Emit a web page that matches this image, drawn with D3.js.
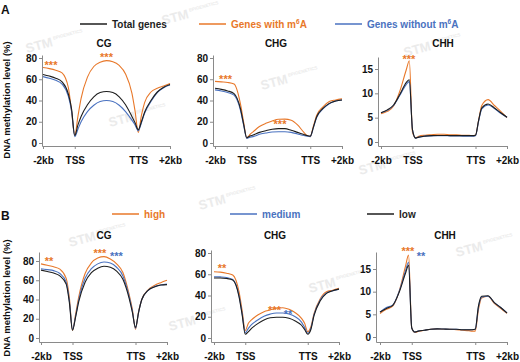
<!DOCTYPE html>
<html>
<head>
<meta charset="utf-8">
<script src="https://cdn.jsdelivr.net/npm/d3@7"></script>
<style>
  body { margin: 0; background: #fff; }
  svg { display: block; font-family: "Liberation Sans", Arial, sans-serif; font-weight: bold; }
</style>
</head>
<body>
<svg id="chart" width="520" height="362"></svg>
<script>
// ---------------------------------------------------------------------------------------------
// profile positions (0 = -2kb, 25 = TSS, 75 = TTS, 100 = +2kb)
const pos = [0, 5, 10, 15, 20, 22.5, 25, 27.5, 30, 35, 40, 45, 50, 55, 60, 65, 70, 72.5, 75, 77.5, 80, 85, 90, 95, 100];
const xTickPos = [0, 25, 75, 100];
const xTickLabels = ['-2kb', 'TSS', 'TTS', '+2kb'];
const contexts = ['CG', 'CHG', 'CHH'];
const yTicksPct = [0, 20, 40, 60, 80];
const yTicksChh = [0, 5, 10, 15];

// A: genes with / without m6A -------------------------------------------------------------------
const aCgWith     = [71, 70, 68.5, 66, 52, 30, 7, 25, 42, 62, 72, 76, 77.5, 76.5, 73, 65, 47, 30, 10, 26, 38, 48, 51.5, 53.7, 56];
const aCgTotal    = [64.5, 63, 61, 57.5, 46, 32, 7, 17, 25, 36, 43.5, 47.5, 48.5, 47.5, 43.5, 36, 25, 19, 12.5, 20, 29, 40, 48, 52.5, 55];
const aCgWithout  = [62.5, 61, 59, 55.5, 44, 30, 6, 13, 20, 29.5, 35.5, 39, 40, 39, 35.5, 29.5, 21.5, 17, 11.5, 19, 28, 39, 47.5, 52, 54.5];
const aChgWith    = [58, 57.5, 57, 55.5, 37, 20, 4.5, 8, 10.5, 15.5, 18.5, 20.7, 22.3, 22.5, 21.5, 17, 10, 7, 6, 16, 26, 34, 39, 40.5, 41.5];
const aChgTotal   = [51.5, 50.5, 49, 46.5, 32.5, 18, 5, 6.5, 7.5, 10, 11.6, 12.9, 13.5, 13.5, 12, 10, 8, 7, 6.5, 15, 24.5, 32.5, 37.3, 39.5, 40.5];
const aChgWithout = [50, 49, 47.5, 45, 31, 17, 4.4, 5.5, 6, 8.2, 9.4, 10.4, 10.6, 10.6, 10, 8.5, 7, 6.5, 6, 14.5, 24, 32, 37, 39.5, 40.5];
const aChhWith    = [5.8, 6.3, 7.4, 10.5, 14.8, 16.7, 2, 0.9, 1.2, 1.4, 1.5, 1.6, 1.6, 1.5, 1.5, 1.4, 1.4, 1.3, 1.4, 4.5, 7.5, 8.7, 7.5, 6.3, 5.0];
const aChhTotal   = [6.0, 6.6, 7.6, 9.8, 12.2, 12.8, 2.5, 0.8, 1.0, 1.2, 1.3, 1.35, 1.35, 1.3, 1.3, 1.3, 1.3, 1.3, 1.4, 4.5, 7.0, 7.8, 7.0, 6.0, 5.1];
const aChhWithout = [6.0, 6.5, 7.5, 9.6, 11.8, 12.4, 2.5, 0.8, 1.0, 1.2, 1.25, 1.3, 1.3, 1.25, 1.25, 1.2, 1.2, 1.2, 1.3, 4.3, 6.8, 7.6, 6.9, 5.9, 5.1];

// B: high / medium / low -----------------------------------------------------------------------
const bCgHigh    = [77, 75.5, 74, 71.5, 62, 42, 8, 25, 43, 67, 78, 83, 84.5, 82, 77, 68, 45, 30, 9, 28, 40, 50, 54.5, 57.5, 60];
const bCgMedium  = [72, 71, 70, 67, 58, 39, 9, 23, 40, 62, 72, 77, 79, 78, 73.5, 64.5, 43, 28, 10, 27, 40, 49.5, 53.5, 55, 56];
const bCgLow     = [70.5, 69, 67.5, 64.5, 56, 37, 8, 22, 38, 58, 68, 72.5, 74.5, 73.5, 69.5, 61, 41, 27, 11, 27, 40, 49.5, 53, 55, 55.5];
const bChgHigh   = [62.4, 62, 61, 59.3, 43.6, 26, 7, 13.8, 17, 21.6, 24.8, 26.4, 28, 28.5, 27, 23.8, 18.5, 13.8, 6, 10.6, 23, 37, 43.6, 45, 46.7];
const bChgMedium = [57.7, 57.5, 57, 55, 40, 23, 5, 9, 12.5, 17, 20.5, 22.5, 23.5, 23.5, 22.5, 20, 15, 10, 4.5, 9, 22, 36, 42.5, 44.5, 46];
const bChgLow    = [56.5, 56.5, 56, 54.5, 39, 22, 3.5, 6, 9, 13.5, 17, 19, 19.5, 19.5, 18.5, 16, 12, 8, 3.5, 8, 21, 35, 42, 44.5, 46];
const bChhHigh   = [5.2, 6.1, 6.8, 10, 15.5, 18.1, 2, 1.0, 1.2, 1.5, 1.7, 1.8, 1.7, 1.7, 1.6, 1.5, 1.4, 1.3, 1.3, 6, 8.6, 9.0, 7.4, 6.3, 5.2];
const bChhMedium = [5.5, 6.5, 7.0, 10, 14.5, 16.5, 2, 1.1, 1.3, 1.5, 1.7, 1.8, 1.75, 1.7, 1.7, 1.6, 1.6, 1.6, 1.7, 6.5, 8.8, 9.0, 7.6, 6.5, 5.3];
const bChhLow    = [5.5, 6.3, 7.0, 9.8, 14.0, 15.8, 2, 1.1, 1.3, 1.5, 1.7, 1.8, 1.75, 1.7, 1.7, 1.6, 1.6, 1.6, 1.7, 6.8, 9.0, 9.1, 7.6, 6.5, 5.3];

// significance marks: panel, x, y (data units), text, colour
const stars = [
  ['aCG', 6.3, 75.3, '***', 'orange'], ['aCG', 50, 82.8, '***', 'orange'],
  ['aCHG', 8.3, 62.1, '***', 'orange'], ['aCHG', 51.2, 19.8, '***', 'orange'],
  ['aCHH', 22.2, 17.5, '***', 'orange'],
  ['bCG', 6.3, 82, '**', 'orange'], ['bCG', 46.8, 90.4, '***', 'orange'], ['bCG', 59.9, 87.3, '***', 'blue'],
  ['bCHG', 6.4, 67.8, '**', 'orange'], ['bCHG', 48.4, 28.2, '***', 'orange'], ['bCHG', 59.2, 24.5, '**', 'blue'],
  ['bCHH', 22, 19.4, '***', 'orange'], ['bCHH', 32.3, 18.5, '**', 'blue']
];
// ---------------------------------------------------------------------------------------------
const colors = { orange: '#e8782a', blue: '#4a72c0', black: '#1e1e1e' };
const svg = d3.select('#chart');

// watermark ------------------------------------------------------------------------------------
const marks = [[163, 25], [27, 53], [110, 127], [262, 90], [405, 57], [360, 175], [200, 210], [70, 247], [170, 331], [310, 293], [457, 257]];
marks.forEach(m => {
  const g = svg.append('g').attr('transform', 'translate(' + m[0] + ',' + m[1] + ') rotate(-15)').attr('fill', '#ebebeb');
  g.append('text').attr('font-size', '13px').text('STM');
  g.append('text').attr('x', 29).attr('y', -6).attr('font-size', '4.5px').text('EPIGENETICS');
});

// panels ---------------------------------------------------------------------------------------
const panels = [
  { id: 'aCG',  title: contexts[0], tx: 104, ty: 47,  x0: 43,  x1: 170, ax: 42,  y0: 143, yT: 58,  yMax: 80, ticks: yTicksPct, axY: 146, axTop: 55,
    series: [[aCgWith, 'orange'], [aCgWithout, 'blue'], [aCgTotal, 'black']] },
  { id: 'aCHG', title: contexts[1], tx: 276, ty: 47,  x0: 215, x1: 342, ax: 213, y0: 143, yT: 58,  yMax: 80, ticks: yTicksPct, axY: 146, axTop: 55,
    series: [[aChgWith, 'orange'], [aChgWithout, 'blue'], [aChgTotal, 'black']] },
  { id: 'aCHH', title: contexts[2], tx: 443, ty: 47,  x0: 381, x1: 507, ax: 378, y0: 142, yT: 69,  yMax: 15, ticks: yTicksChh, axY: 146, axTop: 57,
    series: [[aChhWith, 'orange'], [aChhWithout, 'blue'], [aChhTotal, 'black']] },
  { id: 'bCG',  title: contexts[0], tx: 104, ty: 239, x0: 41,  x1: 167, ax: 39,  y0: 338, yT: 261, yMax: 80, ticks: yTicksPct, axY: 342, axTop: 252,
    series: [[bCgHigh, 'orange'], [bCgMedium, 'blue'], [bCgLow, 'black']] },
  { id: 'bCHG', title: contexts[1], tx: 275, ty: 239, x0: 214, x1: 339, ax: 211, y0: 338, yT: 253, yMax: 80, ticks: yTicksPct, axY: 342, axTop: 250,
    series: [[bChgHigh, 'orange'], [bChgMedium, 'blue'], [bChgLow, 'black']] },
  { id: 'bCHH', title: contexts[2], tx: 445, ty: 239, x0: 380, x1: 507, ax: 376, y0: 337, yT: 269, yMax: 15, ticks: yTicksChh, axY: 342, axTop: 252,
    series: [[bChhHigh, 'orange'], [bChhMedium, 'blue'], [bChhLow, 'black']] }
];

panels.forEach(p => {
  const x = d3.scaleLinear().domain([0, 100]).range([p.x0, p.x1]);
  const y = d3.scaleLinear().domain([0, p.yMax]).range([p.y0, p.yT]);

  // y軸 (axis line runs from the x axis to a little above the top tick)
  const yAxisScale = d3.scaleLinear().domain([y.invert(p.axY), y.invert(p.axTop)]).range([p.axY, p.axTop]);
  const gy = svg.append('g')
    .attr('transform', 'translate(' + p.ax + ',0)')
    .call(d3.axisLeft(yAxisScale).tickValues(p.ticks).tickSize(3).tickPadding(2).tickSizeOuter(0));

  // x軸
  const xAxisScale = d3.scaleLinear().domain([x.invert(p.ax), 100]).range([p.ax, p.x1]);
  const gx = svg.append('g')
    .attr('transform', 'translate(0,' + p.axY + ')')
    .call(d3.axisBottom(xAxisScale).tickValues(xTickPos).tickFormat((d, i) => xTickLabels[i])
      .tickSize(3).tickPadding(8).tickSizeOuter(0));

  [gy, gx].forEach(g => {
    g.select('.domain').attr('stroke', '#8a8a8a');
    g.selectAll('.tick line').attr('stroke', '#8a8a8a');
    g.selectAll('text').attr('fill', '#111').attr('font-size', '10px').attr('font-weight', 'bold')
      .attr('font-family', '"Liberation Sans", Arial, sans-serif');
  });

  // 線
  const line = d3.line()
    .x((d, i) => x(pos[i]))
    .y(d => y(d))
    .curve(d3.curveMonotoneX);
  p.series.forEach(s => {
    svg.append('path')
      .datum(s[0])
      .attr('d', line)
      .attr('fill', 'none')
      .attr('stroke', colors[s[1]])
      .attr('stroke-width', 1.1);
  });

  // 表名
  svg.append('text')
    .attr('x', p.tx).attr('y', p.ty)
    .attr('text-anchor', 'middle')
    .attr('font-size', '10px')
    .attr('fill', '#111')
    .text(p.title);

  // 有意差
  stars.filter(s => s[0] === p.id).forEach(s => {
    svg.append('text')
      .attr('x', x(s[1])).attr('y', y(s[2]))
      .attr('dy', '0.58em')
      .attr('text-anchor', 'middle')
      .attr('font-size', '11px')
      .attr('fill', colors[s[4]])
      .text(s[3]);
  });
});

// y label ----------------------------------------------------------------------------------------
[100, 298].forEach(cy => {
  svg.append('text')
    .attr('transform', 'translate(10,' + cy + ') rotate(-90)')
    .attr('text-anchor', 'middle')
    .attr('font-size', '9.5px')
    .attr('fill', '#111')
    .text('DNA methylation level (%)');
});

// panel letters ----------------------------------------------------------------------------------
svg.append('text').attr('x', 1).attr('y', 14).attr('font-size', '12px').attr('fill', '#111').text('A');
svg.append('text').attr('x', 1).attr('y', 220).attr('font-size', '12px').attr('fill', '#111').text('B');

// legend -----------------------------------------------------------------------------------------
const legendA = [
  { x: 80, c: 'black', parts: [['Total genes']] },
  { x: 199, c: 'orange', parts: [['Genes with m'], ['6', true], ['A']] },
  { x: 335, c: 'blue', parts: [['Genes without m'], ['6', true], ['A']] }
];
const legendB = [
  { x: 112, c: 'orange', parts: [['high']] },
  { x: 230, c: 'blue', parts: [['medium']] },
  { x: 367, c: 'black', parts: [['low']] }
];
const drawLegend = (items, ly) => {
  items.forEach(it => {
    svg.append('line')
      .attr('x1', it.x).attr('x2', it.x + 27)
      .attr('y1', ly).attr('y2', ly)
      .attr('stroke', colors[it.c]).attr('stroke-width', 1.5);
    const t = svg.append('text')
      .attr('x', it.x + 32).attr('y', ly + 3.5)
      .attr('font-size', '10px')
      .attr('fill', colors[it.c]);
    it.parts.forEach(pt => {
      const ts = t.append('tspan').text(pt[0]);
      if (pt[1]) ts.attr('font-size', '6.5px').attr('dy', -3.5);
      else if (t.selectAll('tspan').size() > 1) ts.attr('dy', 3.5);
    });
  });
};
drawLegend(legendA, 24);
drawLegend(legendB, 214);
</script>
</body>
</html>
